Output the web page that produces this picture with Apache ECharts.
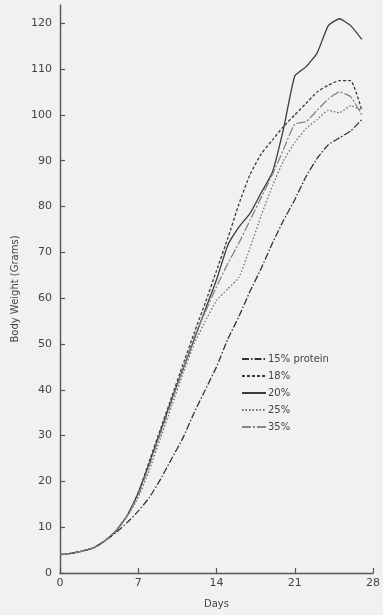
<!DOCTYPE html>
<html>
<head>
<meta charset="utf-8">
<script src="https://cdn.jsdelivr.net/npm/echarts@6/dist/echarts.min.js"></script>
<style>
html,body{margin:0;padding:0;background:#f1f1ef;}
#c{width:383px;height:615px;}
</style>
</head>
<body>
<div id="c"></div>
<script>
const days = [0,1,2,3,4,5,6,7,8,9,10,11,12,13,14,15,16,17,18,19,20,21,22,23,24,25,26,27];
const p15 = [4,4.3,4.8,5.5,7,8.8,11,13.5,16.5,20.5,25,29.5,35,40,45,51,56,61.5,66.5,72,77,81.5,86.5,90.5,93.5,95,96.5,99];
const p18 = [4,4.3,4.8,5.5,7,9.2,12.5,17.5,24.5,31.5,38.5,45.5,52.4,59,66,73,80.5,87,91.5,94.5,97.5,100,102.5,105,106.5,107.5,107.5,101];
const p20 = [4,4.3,4.8,5.5,7,9.2,12.5,17.5,24,31,38,44.5,51,57.5,64,71.5,75.5,78.5,83,87.5,97,108.5,110.5,113.5,119.5,121,119.5,116.5];
const p25 = [4,4.3,4.8,5.5,7,9.2,12.3,16.5,22.5,29.5,36.5,43.5,50,55,59.5,62,64.5,71,78,84.5,90,94,97,99,101,100.5,102,101];
const p35 = [4,4.3,4.8,5.5,7,9.2,12.4,17,23.5,30.5,37.5,44.5,51.5,57,62.5,67.5,72,77,82,87,92.5,98,98.5,101,103.5,105,104,100];
const seriesNames = ['15% protein','18%','20%','25%','35%'];
const xTicks = [0,7,14,21,28];
const yTicks = [0,10,20,30,40,50,60,70,80,90,100,110,120];

const pairs = arr => days.map((d,i)=>[d,arr[i]]);
const styles = [
  {color:'#333', width:1.3, type:[7,2,1.5,2]},
  {color:'#3c3c3c', width:1.3, type:[3,2]},
  {color:'#3c3c3c', width:1.3, type:'solid'},
  {color:'#6e6e6e', width:1.3, type:[1.5,2]},
  {color:'#858585', width:1.3, type:[9,2,2,2]}
];
const datas = [p15,p18,p20,p25,p35];

const chart = echarts.init(document.getElementById('c'));
const txt = '#444';
const font = 'DejaVu Sans';
chart.setOption({
  backgroundColor:'#f1f1ef',
  animation:false,
  grid:{left:60,right:6,top:5,bottom:42},
  legend:{
    orient:'vertical', left:236, top:349, itemWidth:24, itemHeight:10, itemGap:7,
    itemStyle:{color:'rgba(0,0,0,0)', borderWidth:0},
    textStyle:{color:txt, fontSize:10, fontFamily:font, padding:[0,0,0,-3]},
    data:seriesNames
  },
  xAxis:{
    type:'value', min:0, max:28, interval:7,
    name:'Days', nameLocation:'middle', nameGap:26,
    nameTextStyle:{color:txt, fontSize:10, fontFamily:font},
    axisLine:{lineStyle:{color:'#555', width:1.4}},
    axisTick:{inside:true, length:5, lineStyle:{color:'#555', width:1.2}, customValues:xTicks},
    axisLabel:{color:txt, fontSize:11, fontFamily:font, margin:5, customValues:xTicks},
    splitLine:{show:false}
  },
  yAxis:{
    type:'value', min:0, max:124, interval:10,
    name:'Body Weight (Grams)', nameLocation:'middle', nameRotate:90, nameGap:36,
    nameTextStyle:{color:txt, fontSize:10, fontFamily:font},
    axisLine:{show:true, lineStyle:{color:'#555', width:1.4}},
    axisTick:{show:true, inside:true, length:5, lineStyle:{color:'#555', width:1.2}, customValues:yTicks},
    axisLabel:{color:txt, fontSize:11, fontFamily:font, margin:8, customValues:yTicks},
    splitLine:{show:false}
  },
  series: seriesNames.map((n,i)=>({
    name:n, type:'line', data:pairs(datas[i]), symbol:'none', smooth:0.15,
    lineStyle:styles[i], itemStyle:{color:styles[i].color}
  }))
});
</script>
</body>
</html>
